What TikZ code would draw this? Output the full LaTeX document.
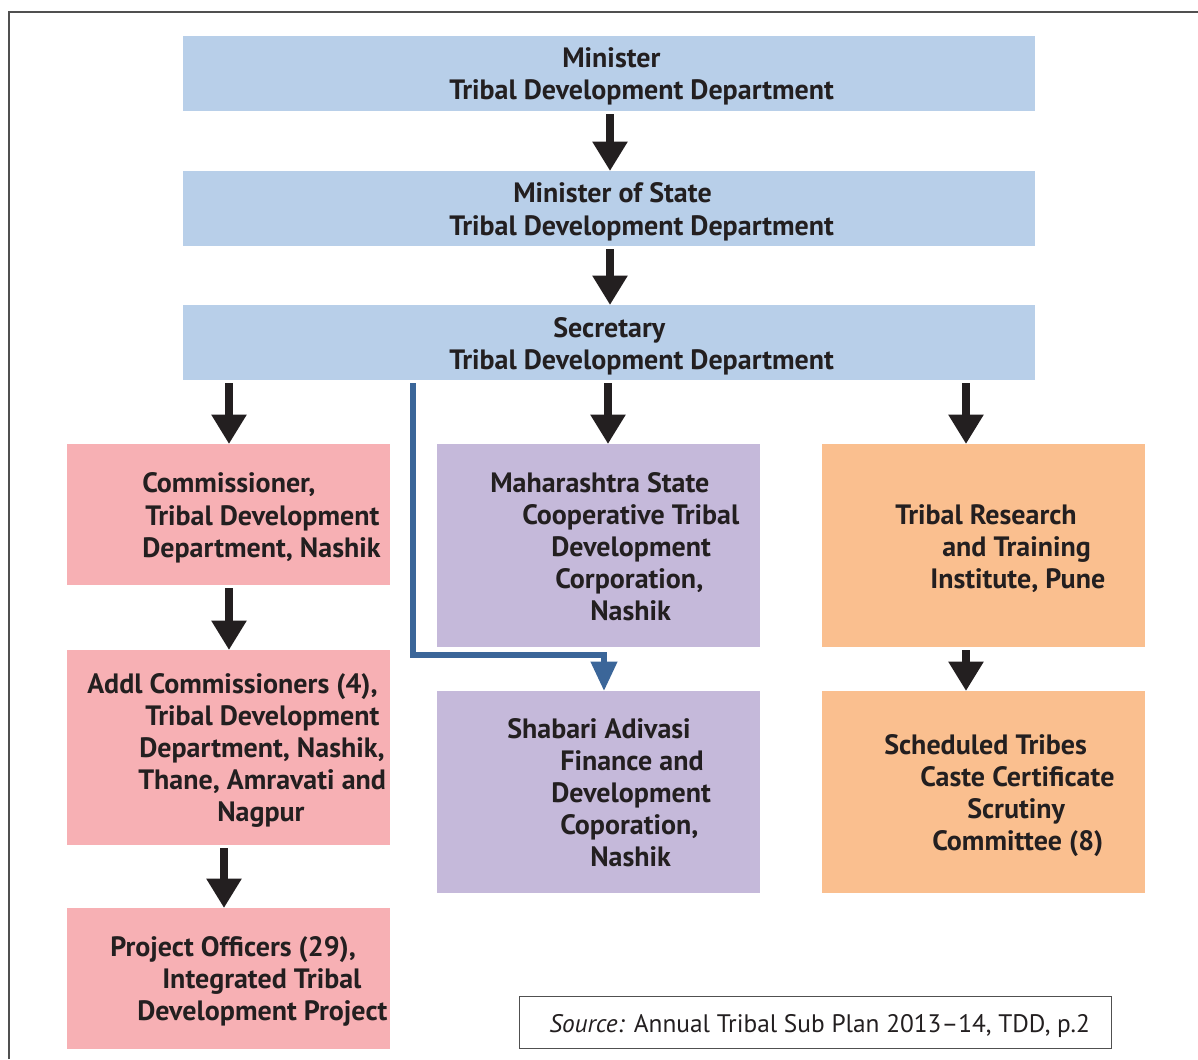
\documentclass[tikz,border=0pt]{standalone}
\usepackage{fontspec}
\setmainfont{PT Sans}
\usetikzlibrary{arrows.meta}
\definecolor{ink}{HTML}{231F20}
\definecolor{bluebox}{HTML}{B8CFE9}
\definecolor{pinkbox}{HTML}{F7B0B4}
\definecolor{lilacbox}{HTML}{C5B9DA}
\definecolor{orangebox}{HTML}{FABF8F}
\definecolor{linkblue}{HTML}{3B6699}
\definecolor{framegray}{HTML}{505050}
\tikzset{
  box/.style={fill=#1, draw=none, inner sep=0, anchor=north west},
  ln/.style={anchor=base west, inner sep=0, text=ink,
    font=\fontsize{21}{24}\selectfont\bfseries},
  arr/.style={draw=ink, line width=6pt, shorten <=2pt,
    -{Triangle[width=25pt,length=22pt]}},
  bluearr/.style={draw=linkblue, line width=4.5pt,
    -{Triangle[width=19pt,length=22pt]}},
}
\begin{document}
\begin{tikzpicture}[x=0.75pt, y=-0.75pt]
\useasboundingbox (0,0) rectangle (1198,1059);
\fill[white] (0,0) rectangle (1198,1059);
% outer frame (left and top edges)
\draw[framegray, line width=1.3pt] (9,1059) -- (9,12) -- (1198,12);

% ---- boxes
\node[box=bluebox, minimum width=852*0.75pt, minimum height=75*0.75pt] (min) at (183,36) {};
\node[box=bluebox, minimum width=852*0.75pt, minimum height=75*0.75pt] (mos) at (183,171) {};
\node[box=bluebox, minimum width=852*0.75pt, minimum height=75*0.75pt] (sec) at (183,305) {};
\node[box=pinkbox, minimum width=323*0.75pt, minimum height=141*0.75pt] (comm) at (67,444) {};
\node[box=pinkbox, minimum width=323*0.75pt, minimum height=195*0.75pt] (addl) at (67,650) {};
\node[box=pinkbox, minimum width=323*0.75pt, minimum height=141*0.75pt] (proj) at (67,908) {};
\node[box=lilacbox, minimum width=323*0.75pt, minimum height=203*0.75pt] (mah) at (437,444) {};
\node[box=lilacbox, minimum width=323*0.75pt, minimum height=202*0.75pt] (shab) at (437,691) {};
\node[box=orangebox, minimum width=323*0.75pt, minimum height=203*0.75pt] (trti) at (822,444) {};
\node[box=orangebox, minimum width=323*0.75pt, minimum height=202*0.75pt] (stcc) at (822,691) {};
\node[box=white, draw=framegray, line width=0.8pt, minimum width=592*0.75pt, minimum height=52*0.75pt] (src) at (519,996) {};

% ---- texts
\node[ln] (min1) at (562,68) {Minister};
\node[ln] (min2) at (449,100) {Tribal Development Department};
\node[ln] (mos1) at (513,203) {Minister of State};
\node[ln] (mos2) at (449,235) {Tribal Development Department};
\node[ln] (sec1) at (553,337) {Secretary};
\node[ln] (sec2) at (449,369) {Tribal Development Department};

\node[ln] (comm1) at (142,492) {Commissioner,};
\node[ln] (comm2) at (145,525) {Tribal Development};
\node[ln] (comm3) at (142,557) {Department, Nashik};

\node[ln] (addl1) at (87,693) {Addl Commissioners (4),};
\node[ln] (addl2) at (145,725) {Tribal Development};
\node[ln] (addl3) at (139,757) {Department, Nashik,};
\node[ln] (addl4) at (138,789) {Thane, Amravati and};
\node[ln] (addl5) at (217,821) {Nagpur};

\node[ln] (proj1) at (110,956) {Project Officers (29),};
\node[ln] (proj2) at (162,988) {Integrated Tribal};
\node[ln] (proj3) at (137,1020) {Development Project};

\node[ln] (mah1) at (490,492) {Maharashtra State};
\node[ln] (mah2) at (522,524) {Cooperative Tribal};
\node[ln] (mah3) at (551,556) {Development};
\node[ln] (mah4) at (555,588) {Corporation,};
\node[ln] (mah5) at (590,620) {Nashik};

\node[ln] (shab1) at (507,738) {Shabari Adivasi};
\node[ln] (shab2) at (560,770) {Finance and};
\node[ln] (shab3) at (551,802) {Development};
\node[ln] (shab4) at (560,834) {Coporation,};
\node[ln] (shab5) at (590,866) {Nashik};

\node[ln] (trti1) at (895,524) {Tribal Research};
\node[ln] (trti2) at (942,556) {and Training};
\node[ln] (trti3) at (930,588) {Institute, Pune};

\node[ln] (stcc1) at (884,754) {Scheduled Tribes};
\node[ln] (stcc2) at (920,786) {Caste Certificate};
\node[ln] (stcc3) at (967,818) {Scrutiny};
\node[ln] (stcc4) at (932,850) {Committee (8)};

\node[anchor=base west, inner sep=0, text=ink, font=\fontsize{19}{22}\selectfont] (src1) at (549,1032) {\textit{Source:} Annual Tribal Sub Plan 2013--14, TDD, p.2};

% ---- connectors
\draw[arr] (min.south -| 610,0) -- (mos.north -| 610,0);
\draw[arr] (mos.south -| 610,0) -- (sec.north -| 610,0);
\draw[arr] (sec.south -| 229,0) -- (comm.north -| 229,0);
\draw[arr] (sec.south -| 608,0) -- (mah.north -| 608,0);
\draw[arr] (sec.south -| 966,0) -- (trti.north -| 966,0);
\draw[arr] (comm.south -| 229,0) -- (addl.north -| 229,0);
\draw[arr] (addl.south -| 224,0) -- (proj.north -| 224,0);
\draw[arr] (trti.south -| 966,0) -- (stcc.north -| 966,0);
\draw[bluearr] ([yshift=-2pt]sec.south -| 413,0) -- (413,655) -- (604,655) -- (shab.north -| 604,0);
\end{tikzpicture}
\end{document}
